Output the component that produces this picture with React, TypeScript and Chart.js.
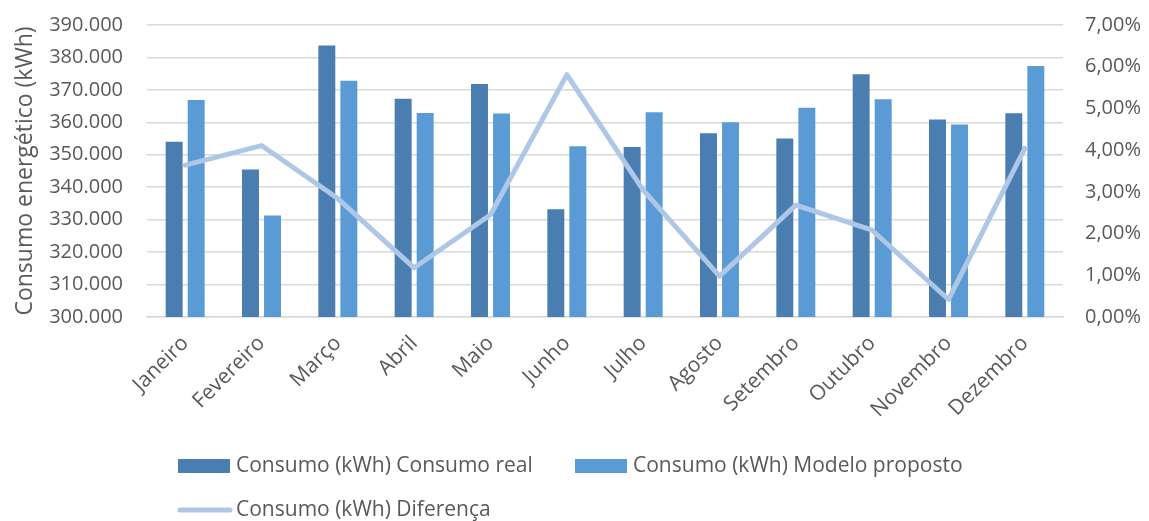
import { useEffect, useRef } from 'react';
import { Chart, registerables } from 'chart.js';

Chart.register(...registerables);

// Meses do ano (eixo das categorias)
const meses = [
  'Janeiro', 'Fevereiro', 'Março', 'Abril', 'Maio', 'Junho',
  'Julho', 'Agosto', 'Setembro', 'Outubro', 'Novembro', 'Dezembro',
];

// Consumo mensal medido (kWh)
const consumoReal = [
  354000, 345500, 383700, 367300, 371800, 333200,
  352400, 356600, 355000, 374800, 360900, 362800,
];

// Consumo mensal estimado pelo modelo (kWh)
const modeloProposto = [
  366900, 331300, 372800, 362900, 362700, 352600,
  363100, 360000, 364500, 367100, 359300, 377400,
];

// Diferença relativa entre real e modelo (%)
const diferenca = [
  3.64, 4.11, 2.84, 1.18, 2.45, 5.81,
  3.04, 0.98, 2.68, 2.08, 0.42, 4.04,
];

// Faixas dos eixos
const consumoMin = 300000;
const consumoMax = 390000;
const consumoPasso = 10000;
const percMin = 0;
const percMax = 7;
const percPasso = 1;

const nomesSeries = [
  'Consumo (kWh) Consumo real',
  'Consumo (kWh) Modelo proposto',
  'Consumo (kWh) Diferença',
];

const FONTE = '"Open Sans", "Noto Sans", sans-serif';
const COR_TEXTO = '#595959';
const COR_GRADE = '#d9d9d9';
const COR_REAL = '#4a7eb0';
const COR_MODELO = '#5b9bd5';
const COR_DIF = '#aec7e6';

function formatarMilhar(v: number): string {
  const s = Math.round(v / 1000).toString();
  return s + '.000';
}

function formatarPerc(v: number): string {
  return v.toFixed(2).replace('.', ',') + '%';
}

// Legenda em duas linhas, alinhada à esquerda como no Excel
const legendaPlugin = {
  id: 'legendaDuasLinhas',
  afterDraw(chart: any) {
    const ctx = chart.ctx as CanvasRenderingContext2D;
    const ds = chart.data.datasets;
    const itens = [
      { i: 0, x: 178, y: 466 },
      { i: 1, x: 575, y: 466 },
      { i: 2, x: 178, y: 510 },
    ];
    ctx.save();
    ctx.font = `21px ${FONTE}`;
    ctx.textBaseline = 'middle';
    ctx.textAlign = 'left';
    for (const it of itens) {
      const d = ds[it.i];
      if (d.type === 'line') {
        ctx.strokeStyle = d.borderColor;
        ctx.lineWidth = 5;
        ctx.lineCap = 'round';
        ctx.beginPath();
        ctx.moveTo(it.x + 2, it.y);
        ctx.lineTo(it.x + 52, it.y);
        ctx.stroke();
      } else {
        ctx.fillStyle = d.backgroundColor;
        ctx.fillRect(it.x, it.y - 7, 52, 14);
      }
      ctx.fillStyle = COR_TEXTO;
      ctx.fillText(d.label, it.x + 58, it.y);
    }
    ctx.restore();
  },
};

// Eixos verticais com largura fixa e sem folga extra acima/abaixo
const fixarEixoVertical = (largura: number) => (s: any) => {
  s.width = largura;
  s.paddingTop = 0;
  s.paddingBottom = 0;
};

export default function App() {
  const canvasRef = useRef<HTMLCanvasElement | null>(null);

  useEffect(() => {
    document.body.style.margin = '0';
    const canvas = canvasRef.current;
    if (!canvas) return;

    const chart = new Chart(canvas, {
      type: 'bar',
      data: {
        labels: meses,
        datasets: [
          {
            type: 'bar',
            label: nomesSeries[0],
            data: consumoReal,
            backgroundColor: COR_REAL,
            borderWidth: 0,
            yAxisID: 'y',
            categoryPercentage: 0.577,
            barPercentage: 0.77,
            order: 2,
          },
          {
            type: 'bar',
            label: nomesSeries[1],
            data: modeloProposto,
            backgroundColor: COR_MODELO,
            borderWidth: 0,
            yAxisID: 'y',
            categoryPercentage: 0.577,
            barPercentage: 0.77,
            order: 3,
          },
          {
            type: 'line',
            label: nomesSeries[2],
            data: diferenca,
            borderColor: COR_DIF,
            backgroundColor: COR_DIF,
            borderWidth: 5,
            borderJoinStyle: 'round',
            borderCapStyle: 'round',
            pointRadius: 0,
            tension: 0,
            yAxisID: 'y1',
            order: 1,
          },
        ] as any,
      },
      options: {
        responsive: false,
        animation: false,
        devicePixelRatio: 1,
        layout: { padding: { top: 25, bottom: 94, left: 0, right: 0 } },
        plugins: {
          legend: { display: false },
          tooltip: { enabled: false },
        },
        scales: {
          x: {
            grid: { display: false },
            border: { display: true, color: COR_GRADE, width: 1.5 },
            ticks: {
              minRotation: 45,
              maxRotation: 45,
              autoSkip: false,
              padding: 6,
              color: COR_TEXTO,
              font: { family: FONTE, size: 21 },
            },
            afterFit: (s: any) => { s.height = 110; },
          },
          y: {
            position: 'left',
            min: consumoMin,
            max: consumoMax,
            grid: { color: COR_GRADE, lineWidth: 1.5, drawTicks: false },
            border: { display: false },
            ticks: {
              stepSize: consumoPasso,
              padding: 24,
              color: COR_TEXTO,
              font: { family: FONTE, size: 20 },
              callback: (v: any) => formatarMilhar(Number(v)),
            },
            title: {
              display: true,
              text: 'Consumo energético (kWh)',
              color: COR_TEXTO,
              font: { family: FONTE, size: 23 },
              padding: { top: 12, bottom: 0 },
            },
            afterFit: fixarEixoVertical(147),
          },
          y1: {
            position: 'right',
            min: percMin,
            max: percMax,
            grid: { display: false, drawTicks: false },
            border: { display: false },
            ticks: {
              stepSize: percPasso,
              padding: 22,
              color: COR_TEXTO,
              font: { family: FONTE, size: 20 },
              callback: (v: any) => formatarPerc(Number(v)),
            },
            afterFit: fixarEixoVertical(86),
          },
        },
      } as any,
      plugins: [legendaPlugin],
    });

    return () => chart.destroy();
  }, []);

  return (
    <div style={{ width: 1149, height: 521, background: '#ffffff' }}>
      <canvas ref={canvasRef} width={1149} height={521} style={{ display: 'block' }} />
    </div>
  );
}
